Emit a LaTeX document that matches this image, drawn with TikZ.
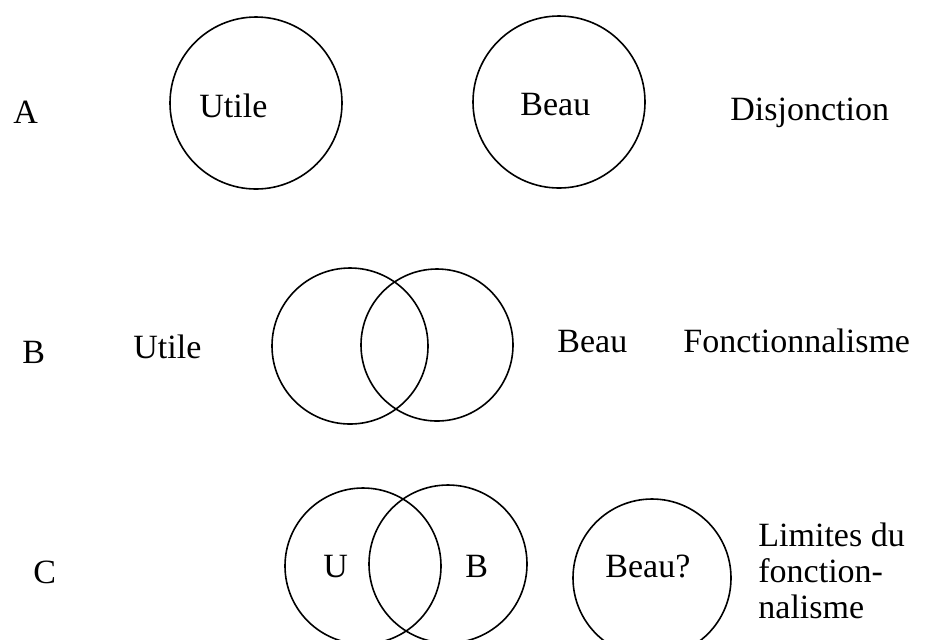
\documentclass[tikz,border=0pt]{standalone}
\usepackage{fontspec}
\setmainfont{Liberation Serif}

\begin{document}
\begin{tikzpicture}[x=0.5pt,y=-0.5pt,
  ring/.style={circle,draw,line width=0.8pt,inner sep=0pt,minimum size=#1},
  txt/.style={inner sep=0pt,anchor=base west,align=left,font=\fontsize{17}{17.8}\selectfont}]
\useasboundingbox (0,0) rectangle (931,639);
% A
\node[txt] (rowA) at (13,123) {A};
\node[ring=86pt] (utileA) at (256,103) {};
\node[ring=86pt] (beauA) at (559,102) {};
\node[txt] (utileAt) at (199,117) {Utile};
\node[txt] (beauAt) at (520,115) {Beau};
\node[txt] (disj) at (730,120) {Disjonction};
% B
\node[txt] (rowB) at (22,363) {B};
\node[txt] (utileBt) at (133,358) {Utile};
\node[ring=78pt] (utileB) at (350,346) {};
\node[ring=76pt] (beauB) at (437,345) {};
\node[txt] (beauBt) at (557,352) {Beau};
\node[txt] (fonct) at (683,352) {Fonctionnalisme};
% C
\node[txt] (rowC) at (33,583) {C};
\node[ring=78pt] (utileC) at (363,566) {};
\node[ring=79pt] (beauC) at (448,564) {};
\node[ring=79pt] (beauQ) at (652,578) {};
\node[txt] (utileCt) at (323,577) {U};
\node[txt] (beauCt) at (465,577) {B};
\node[txt] (beauQt) at (605,577) {Beau?};
% base anchor of a multi-line node = last line
\node[txt] (limites) at (758,618) {Limites du\\fonction-\\nalisme};
\end{tikzpicture}
\end{document}
